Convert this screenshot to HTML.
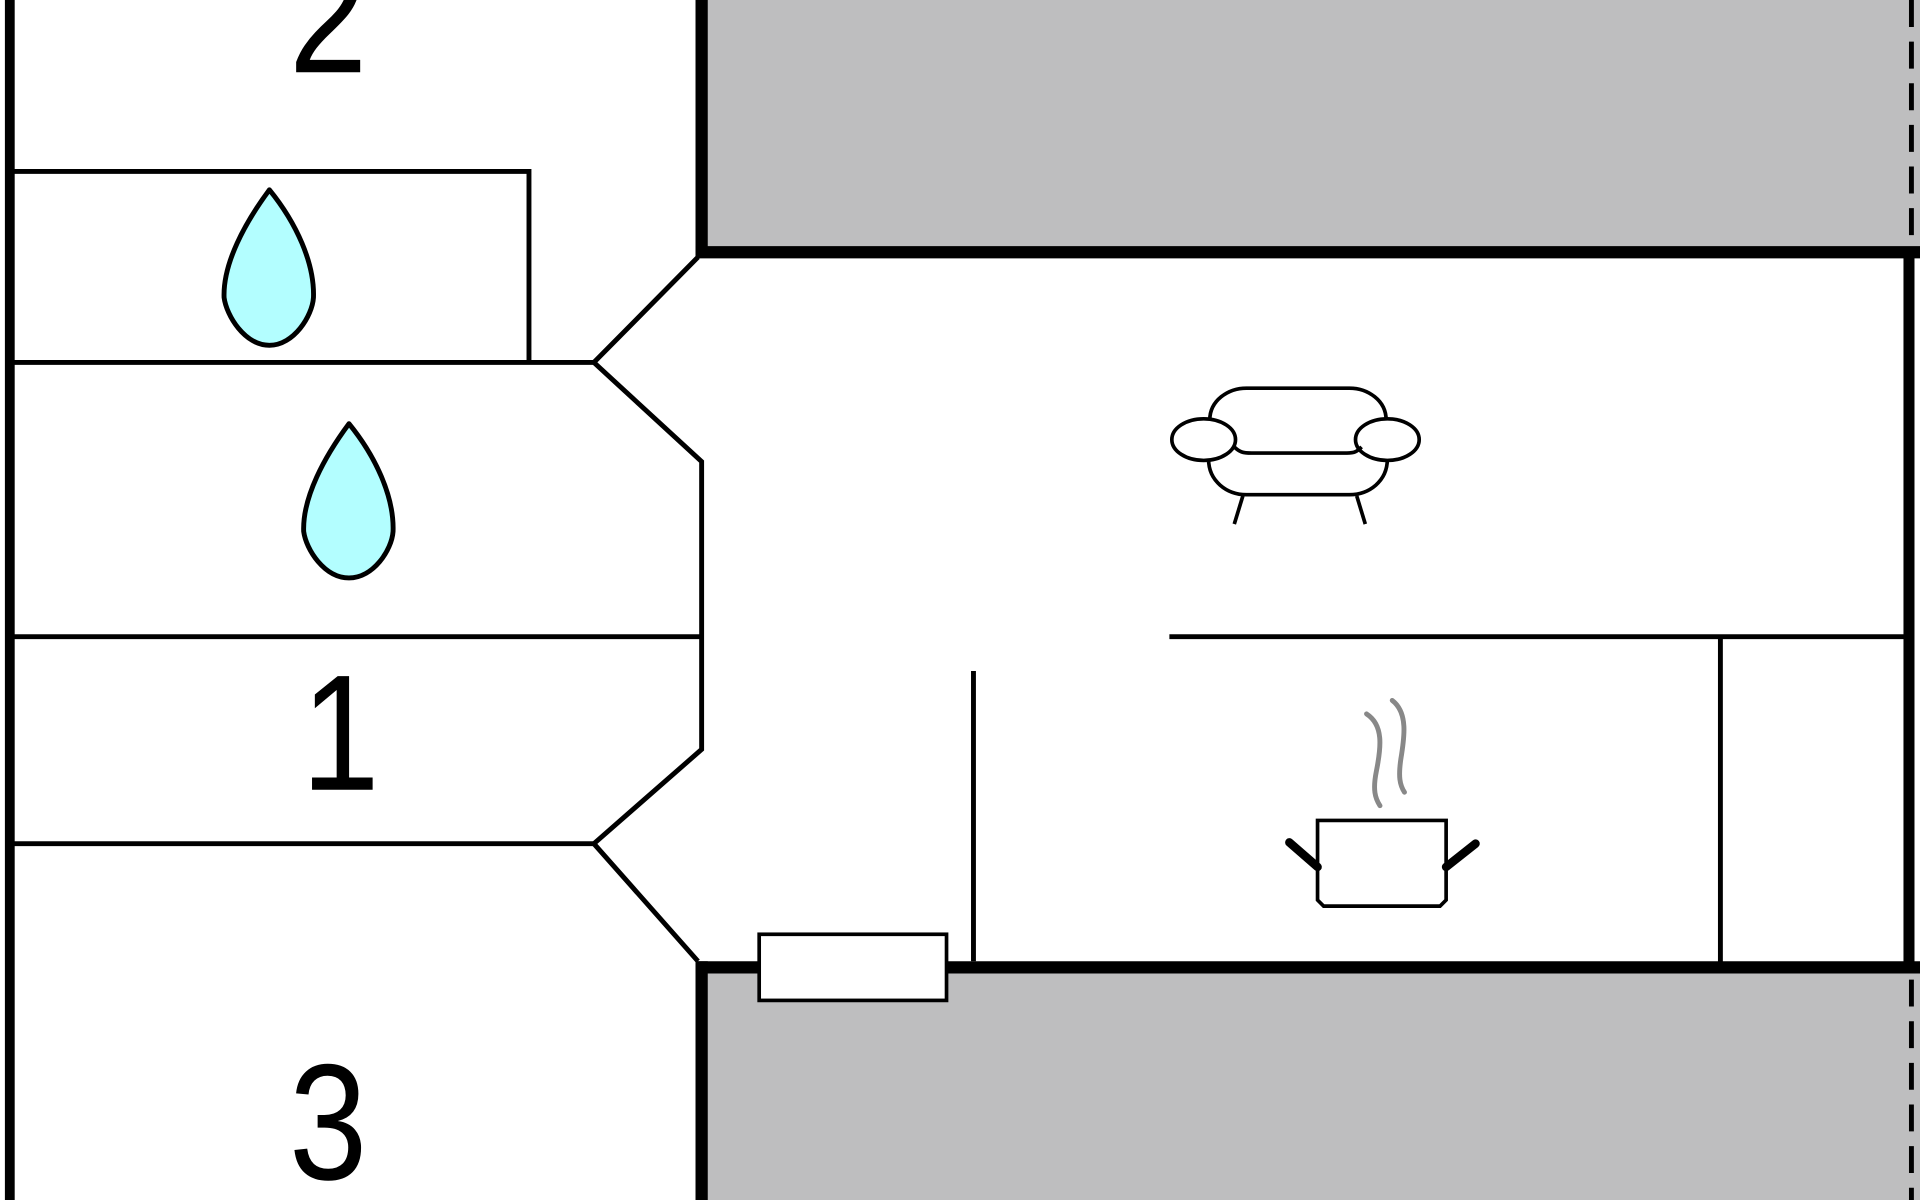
<!DOCTYPE html>
<html><head><style>html,body{margin:0;padding:0;background:#fff;overflow:hidden}svg{display:block}</style></head>
<body>
<svg width="1920" height="1200" viewBox="0 0 1568 980" xmlns="http://www.w3.org/2000/svg">
<rect x="0" y="0" width="1568" height="980" fill="#fff"/>
<rect x="573" y="0" width="995" height="206" fill="#bebebf"/>
<rect x="573" y="790" width="995" height="190" fill="#bebebf"/>
<g stroke="#000" fill="none" stroke-linecap="butt">
<line x1="8" y1="0" x2="8" y2="980" stroke-width="8"/>
<line x1="573" y1="0" x2="573" y2="210" stroke-width="10"/>
<line x1="568" y1="206" x2="1568" y2="206" stroke-width="10"/>
<line x1="1559" y1="206" x2="1559" y2="795" stroke-width="9"/>
<line x1="568" y1="790" x2="1568" y2="790" stroke-width="10"/>
<line x1="573" y1="785" x2="573" y2="980" stroke-width="10"/>
<line x1="1561" y1="0" x2="1561" y2="200" stroke-width="4" stroke-dasharray="22,12"/>
<line x1="1561" y1="800" x2="1561" y2="980" stroke-width="4" stroke-dasharray="22,12"/>
<g stroke-width="4">
<polyline points="8,140 432,140 432,296"/>
<line x1="8" y1="296" x2="485" y2="296"/>
<polyline points="570,210 485,296 573,377 573,612 485,689 570,785"/>
<line x1="8" y1="520" x2="573" y2="520"/>
<line x1="8" y1="689" x2="485" y2="689"/>
<line x1="955" y1="520" x2="1556" y2="520"/>
<line x1="1405" y1="520" x2="1405" y2="790"/>
<line x1="795" y1="548" x2="795" y2="785"/>
</g>
</g>
<rect x="620" y="763" width="153" height="54" fill="#fff" stroke="#000" stroke-width="3"/>
<g font-family="Liberation Sans, sans-serif" font-size="135" fill="#000" text-anchor="middle">
<text x="268" y="59" transform="translate(268 0) scale(0.85 1) translate(-268 0)">2</text>
<text x="278" y="645" transform="translate(278 0) scale(0.85 1) translate(-278 0)">1</text>
<text x="268" y="963" transform="translate(268 0) scale(0.85 1) translate(-268 0)">3</text>
</g>
<g fill="#b3feff" stroke="#000" stroke-width="4" stroke-linejoin="round">
<path d="M220,155 C200,182 182,215 183,243 C185,258 200,282 220,282 C240,282 255,258 256,243 C257,215 242,182 220,155 Z"/>
<path d="M285,346 C265,373 247,406 248,434 C250,449 265,472 285,472 C305,472 320,449 321,434 C322,406 307,373 285,346 Z"/>
</g>
<g fill="none" stroke="#000" stroke-width="3">
<path d="M988,343 C988,327 1003,317 1018,317 L1102,317 C1117,317 1132,327 1132,343"/>
<path d="M987,375 C987,393 1002,404 1018,404 L1102,404 C1118,404 1133,393 1133,375"/>
<path d="M1008,365 C1012,369 1015,370 1022,370 L1100,370 C1106,370 1108,369 1112,365"/>
<ellipse cx="983" cy="359" rx="26" ry="17"/>
<ellipse cx="1133" cy="359" rx="26" ry="17"/>
<line x1="1015" y1="405" x2="1008" y2="428"/>
<line x1="1108" y1="405" x2="1115" y2="428"/>
<path d="M1076,670 L1181,670 L1181,735 L1176,740 L1081,740 L1076,735 Z"/>
</g>
<g stroke="#000" stroke-width="7" stroke-linecap="round">
<line x1="1076" y1="708" x2="1053" y2="688"/>
<line x1="1181" y1="708" x2="1205" y2="689"/>
</g>
<g fill="none" stroke="#888" stroke-width="4" stroke-linecap="round">
<path d="M1116,583 C1130,592 1128,610 1124,630 C1121,645 1123,652 1127,658"/>
<path d="M1137,572 C1150,582 1147,602 1144,620 C1142,634 1143,641 1147,647"/>
</g>
</svg>
</body></html>
